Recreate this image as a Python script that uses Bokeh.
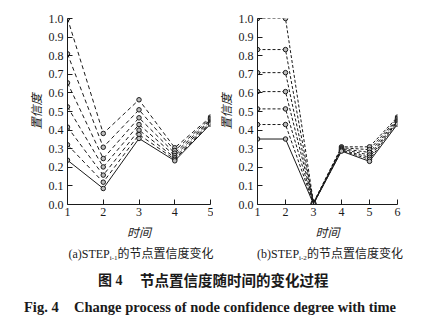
from bokeh.plotting import figure
from bokeh.models import Range1d, FixedTicker, PrintfTickFormatter, GridBox, Div
from bokeh.embed import file_html
from bokeh.resources import INLINE

# ---------------- data ----------------
time_a = [1, 2, 3, 4, 5]
series_a = [
    [1.000, 0.382, 0.563, 0.305, 0.470],
    [0.810, 0.308, 0.509, 0.290, 0.462],
    [0.654, 0.247, 0.466, 0.276, 0.455],
    [0.525, 0.202, 0.430, 0.263, 0.448],
    [0.416, 0.158, 0.400, 0.252, 0.442],
    [0.321, 0.120, 0.376, 0.243, 0.437],
    [0.238, 0.086, 0.355, 0.235, 0.432],
]
time_b = [1, 2, 3, 4, 5, 6]
series_b = [
    [1.000, 1.000, 0.010, 0.310, 0.310, 0.470],
    [0.833, 0.833, 0.008, 0.305, 0.295, 0.462],
    [0.709, 0.709, 0.007, 0.300, 0.280, 0.455],
    [0.607, 0.607, 0.006, 0.297, 0.266, 0.449],
    [0.514, 0.514, 0.005, 0.293, 0.254, 0.444],
    [0.430, 0.430, 0.004, 0.290, 0.243, 0.438],
    [0.352, 0.352, 0.003, 0.287, 0.232, 0.432],
]
y_ticks = [round(0.1 * i, 1) for i in range(11)]
x_label = "时间"
y_label = "置信度"
cap_a = ["(a)STEP", "i-1", "的节点置信度变化"]
cap_b = ["(b)STEP", "i-2", "的节点置信度变化"]
title_cn = ["图 4", "节点置信度随时间的变化过程"]
title_en = ["Fig. 4", "Change process of node confidence degree with time"]

SERIF = "Liberation Serif"
CJK = "Noto Sans CJK SC"
INK = "#1a1a1a"


def make_panel(xs, series, width, border_left, border_right, dash):
    p = figure(width=width, height=242, output_backend="svg", toolbar_location=None,
               x_range=Range1d(xs[0], xs[-1]), y_range=Range1d(0, 1.0),
               min_border_left=border_left, min_border_right=border_right,
               min_border_top=18, min_border_bottom=38)
    p.outline_line_color = None
    p.xgrid.grid_line_color = None
    p.ygrid.grid_line_color = None
    for i, s in enumerate(series):
        solid = i == len(series) - 1
        p.line(xs, s, line_color=INK, line_width=1,
               line_dash="solid" if solid else dash)
        p.scatter(xs, s, size=4.5, marker="circle", line_color=INK,
                  fill_color="#bdbdbd", line_width=1)
    p.xaxis.ticker = FixedTicker(ticks=xs)
    p.yaxis.ticker = FixedTicker(ticks=y_ticks)
    p.yaxis.formatter = PrintfTickFormatter(format="%.1f")
    p.xaxis.axis_label = x_label
    p.yaxis.axis_label = y_label
    for ax in (p.xaxis[0], p.yaxis[0]):
        ax.major_tick_in = 5
        ax.major_tick_out = 0
        ax.minor_tick_in = 0
        ax.minor_tick_out = 0
        ax.axis_line_color = INK
        ax.major_tick_line_color = INK
        ax.major_label_text_font = SERIF
        ax.major_label_text_font_size = "12px"
        ax.major_label_text_color = INK
        ax.axis_label_text_font = CJK
        ax.axis_label_text_font_size = "12px"
        ax.axis_label_text_color = INK
    p.xaxis.major_label_standoff = 3
    p.yaxis.major_label_standoff = 4
    p.xaxis.axis_label_standoff = 4
    p.yaxis.axis_label_standoff = 2
    return p


p1 = make_panel(time_a, series_a, 213, 67, 3, "4 3")
p2 = make_panel(time_b, series_b, 217, 39, 33, "3 2")

# caption strip as HTML (not clipped to any plot frame)
FAM = "'Liberation Serif', 'Noto Sans CJK SC', serif"


def block(left, top, width, text, size, bold=False, align="left"):
    weight = "bold" if bold else "normal"
    return (f'<div style="position:absolute;left:{left}px;top:{top}px;width:{width}px;'
            f'text-align:{align};font-size:{size};font-weight:{weight};'
            f'line-height:16px;white-space:nowrap;">{text}</div>')


def cap_html(cap):
    return (f'{cap[0]}<sub style="font-size:7px;vertical-align:-2px;">{cap[1]}</sub>'
            f'<span style="font-family:\'Noto Sans CJK SC\';">{cap[2]}</span>')


html = (f'<div style="position:relative;width:430px;height:84px;font-family:{FAM};'
        f'color:{INK};margin:0;padding:0;">'
        + block(0, 3, 282, cap_html(cap_a), "12px", align="center")
        + block(240, 3, 180, cap_html(cap_b), "12px", align="center")
        + block(98, 31, 40, title_cn[0], "14px", bold=True)
        + block(140, 31, 220, title_cn[1], "14.5px", bold=True)
        + block(24, 57, 50, title_en[0], "14.5px", bold=True)
        + block(74, 57, 350, title_en[1], "14.5px", bold=True)
        + '</div>')

p3 = Div(text=html, width=430, height=84, margin=0,
         styles={"margin": "0", "padding": "0"})

layout = GridBox(children=[(p1, 0, 0), (p2, 0, 1), (p3, 1, 0, 1, 2)])
open("out.html", "w").write(file_html(layout, INLINE))
